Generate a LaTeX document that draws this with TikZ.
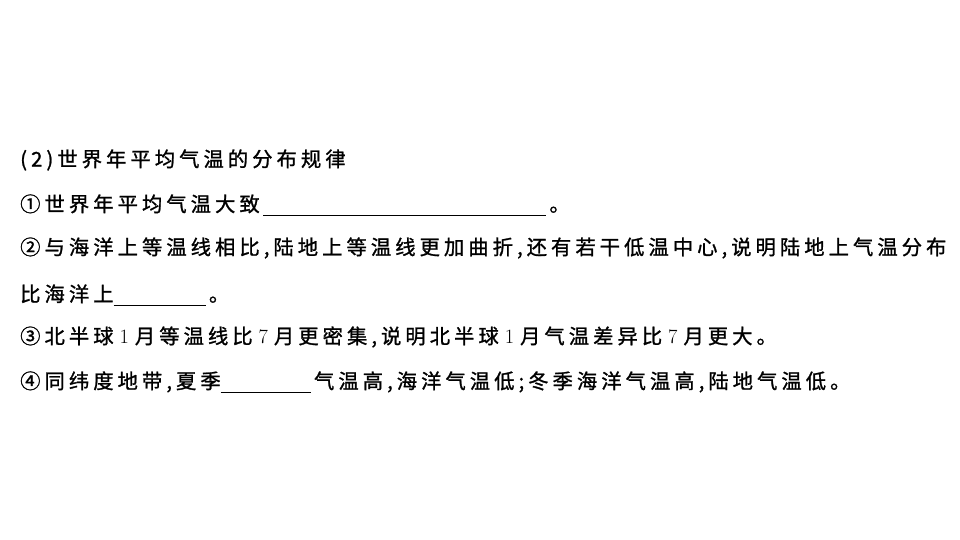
\documentclass[tikz,border=0pt]{standalone}
\usepackage{fontspec}
\setmainfont{Noto Sans CJK SC}[FakeBold=1.2,LetterSpace=20]
\newfontfamily\latinf{Latin Modern Roman 10 Regular}
\begin{document}
\begin{tikzpicture}[x=1pt,y=1pt,every node/.style={anchor=west,inner sep=0pt,font=\fontsize{20.3}{21}\selectfont}]
\useasboundingbox (0,0) rectangle (960,540);
\newcommand{\blank}[1]{\rule[-4pt]{#1pt}{0.6pt}}
\node (l1) at (20,380) {(2)世界年平均气温的分布规律};
\node (l2) at (20,335) {①世界年平均气温大致\,\blank{283}\,。};
\node (l3) at (20,292) {②与海洋上等温线相比,\hspace{4pt}陆地上等温线更加曲折,\hspace{4pt}还有若干低温中心,\hspace{4pt}说明陆地上气温分布};
\node (l4) at (20,245) {比海洋上\blank{92}\,。};
\node (l5) at (20,203) {③北半球\hspace{6pt}{\latinf 1}\hspace{6pt}月等温线比\hspace{6pt}{\latinf 7}\hspace{6pt}月更密集,\hspace{4pt}说明北半球\hspace{6pt}{\latinf 1}\hspace{6pt}月气温差异比\hspace{6pt}{\latinf 7}\hspace{6pt}月更大。};
\node (l6) at (20,158) {④同纬度地带,\hspace{4pt}夏季\blank{90}\,气温高,\hspace{4pt}海洋气温低;\hspace{4pt}冬季海洋气温高,\hspace{4pt}陆地气温低。};
\end{tikzpicture}
\end{document}
